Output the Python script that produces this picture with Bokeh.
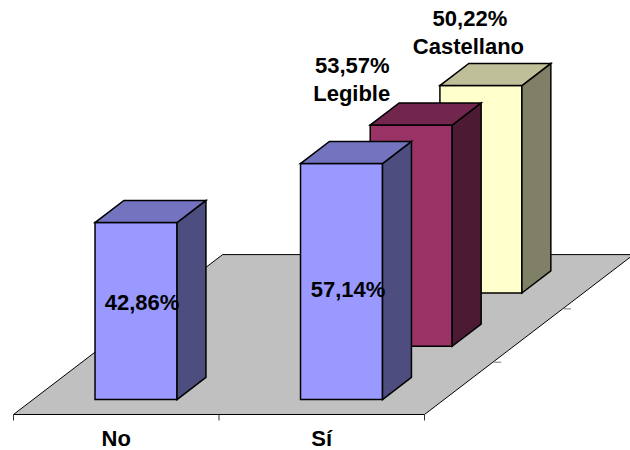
from bokeh.plotting import figure
from bokeh.models import Range1d
from bokeh.core.properties import value
from bokeh.embed import file_html
from bokeh.resources import INLINE

categories = ["No", "Sí"]
series_names = ["", "", "Legible", "Castellano"]
values = [42.86, 57.14, 53.57, 50.22]
value_labels = ["42,86%", "57,14%", "53,57%", "50,22%"]
bar_category = [0, 1, 1, 1]
bar_row = [0, 0, 1, 2]
front_colors = ["#9999FF", "#9999FF", "#993366", "#FFFFCC"]
top_colors = ["#7373BF", "#7373BF", "#73264D", "#BFBF99"]
side_colors = ["#4D4D80", "#4D4D80", "#4D1A33", "#808066"]
row_ticks = [1, 2]

# oblique projection of the 3D chart (pixels of the picture)
ORIGIN = (13.0, 414.0)
CAT_W = 205.5
ROW_DX, ROW_DY = 69.7, 53.3
UNIT = 4.13
BAR_W = 82.0
BAR_GAP = 62.0
BAR_ROW_OFFSET = 0.28
BAR_DEPTH = 0.415


def project(u, d, h=0.0):
    return (ORIGIN[0] + u + d * ROW_DX, ORIGIN[1] - d * ROW_DY - h * UNIT)


p = figure(width=630, height=450, output_backend="svg", toolbar_location=None,
           x_range=Range1d(0, 630), y_range=Range1d(450, 0), min_border=0,
           x_axis_location=None, y_axis_location=None, outline_line_color=None,
           background_fill_color="white", border_fill_color="white")
p.grid.visible = False

# floor
W = CAT_W * len(categories)
D = 3
corners = [project(0, 0), project(W, 0), project(W, D), project(0, D)]
p.patch([c[0] for c in corners], [c[1] for c in corners], fill_color="#C0C0C0", line_color="black", line_width=1)

# category ticks
for i in range(len(categories) + 1):
    x, y = project(i * CAT_W, 0)
    p.segment([x], [y], [x], [y + 6], line_color="#333333", line_width=1)
# depth ticks
for r in row_ticks:
    x, y = project(W, r)
    p.segment([x], [y + 1], [x + 7], [y + 1], line_color="#777777", line_width=1)

# bars, back to front
order = sorted(range(len(values)), key=lambda i: -bar_row[i])
for i in order:
    u0 = bar_category[i] * CAT_W + BAR_GAP
    u1 = u0 + BAR_W
    d0 = bar_row[i] + BAR_ROW_OFFSET
    d1 = d0 + BAR_DEPTH
    h = values[i]
    faces = [
        ([project(u0, d0), project(u1, d0), project(u1, d0, h), project(u0, d0, h)], front_colors[i]),
        ([project(u1, d0), project(u1, d1), project(u1, d1, h), project(u1, d0, h)], side_colors[i]),
        ([project(u0, d0, h), project(u1, d0, h), project(u1, d1, h), project(u0, d1, h)], top_colors[i]),
    ]
    for pts, col in faces:
        p.patch([q[0] for q in pts], [q[1] for q in pts], fill_color=col,
                line_color="black", line_width=1.5, line_join="miter")

FONT = value("Liberation Sans")


def label(x, y, txt):
    p.text([x], [y], text=[txt], text_font=FONT, text_font_style="bold", text_font_size="22px",
           text_color="black", text_align="center", text_baseline="middle")


# value labels placed relative to their bar's top front edge
value_offset = [(6, 80), (6.5, 125.5), (-59, -59.5), (-11, -67.5)]
name_offset = [None, None, (-59.5, -31.5), (-12.5, -39)]
for i in range(len(values)):
    u = bar_category[i] * CAT_W + BAR_GAP + BAR_W / 2
    ax, ay = project(u, bar_row[i] + BAR_ROW_OFFSET, values[i])
    label(ax + value_offset[i][0], ay + value_offset[i][1], value_labels[i])
    if series_names[i]:
        label(ax + name_offset[i][0], ay + name_offset[i][1], series_names[i])

# category labels
for i, c in enumerate(categories):
    x, y = project((i + 0.5) * CAT_W, 0)
    label(x, y + 24, c)

open("out.html", "w").write(file_html(p, INLINE))
